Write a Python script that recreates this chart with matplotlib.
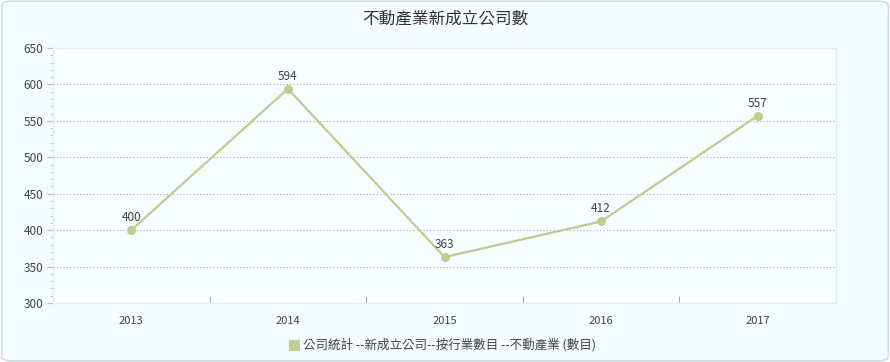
import matplotlib
matplotlib.use("Agg")
import matplotlib.pyplot as plt
from matplotlib.patches import FancyBboxPatch, Rectangle
from matplotlib.ticker import MultipleLocator

plt.rcParams['font.family'] = ['Noto Sans CJK TC', 'DejaVu Sans']

years = ['2013', '2014', '2015', '2016', '2017']
values = [400, 594, 363, 412, 557]
title = '不動產業新成立公司數'
series_name = '公司統計 --新成立公司--按行業數目 --不動產業 (數目)'

line_color = '#BACF8E'
text_color = '#444444'

fig = plt.figure(figsize=(8.9, 3.62), dpi=100)
fig.patch.set_facecolor('white')
bg = FancyBboxPatch((0.002, 0.003), 0.996, 0.994, boxstyle="round,pad=0,rounding_size=0.012",
                    transform=fig.transFigure, facecolor='#F4FCFF', edgecolor='#C9D8E0',
                    linewidth=1.0, zorder=-10)
fig.patches.append(bg)

ax = fig.add_axes([53/890, 1-303/362, (836-53)/890, (303-48)/362])
ax.set_zorder(1)
ax.set_facecolor('#F8FDFF')
x = list(range(len(years)))
ax.plot(x, values, color=line_color, linewidth=1.6, marker='o', markersize=5.5,
        markerfacecolor=line_color, markeredgecolor=line_color, zorder=3)
for xi, v in zip(x, values):
    ax.annotate(str(v), (xi, v), xytext=(0, 4.5), textcoords='offset points',
                ha='center', va='bottom', fontsize=8.5, color=text_color)

ax.set_xlim(-0.5, 4.5)
ax.set_ylim(300, 650)
ax.yaxis.set_major_locator(MultipleLocator(50))
ax.yaxis.set_minor_locator(MultipleLocator(10))
ax.set_xticks(x)
ax.set_xticklabels(years)
ax.set_xticks([i - 0.5 for i in range(6)], minor=True)
ax.tick_params(axis='x', which='major', length=0, pad=9, labelsize=8, labelcolor=text_color)
ax.tick_params(axis='x', which='minor', length=5, color='#999999', direction='in')
ax.tick_params(axis='y', which='major', length=4, color='#BBBBBB', labelsize=8.5,
               labelcolor=text_color, pad=3)
ax.tick_params(axis='y', which='minor', length=2, color='#BBBBBB')
for yv in range(350, 650, 50):
    ax.axhline(yv, color='#AAAAAA', linewidth=0.8, linestyle=(0, (1, 2)), zorder=1)
for s in ['top', 'right', 'left', 'bottom']:
    ax.spines[s].set_color('#E6EAEE')
    ax.spines[s].set_linewidth(1)

fig.text(0.5, 1-19/362, title, ha='center', va='center', fontsize=12, color='#333333')

fig.patches.append(Rectangle((289/890, 1-351/362), 11/890, 11/362, transform=fig.transFigure,
                             facecolor='#BDD18F', edgecolor='none'))
fig.text(303/890, 1-345/362, series_name, ha='left', va='center', fontsize=9, color=text_color)

fig.savefig('out.png', dpi=100, facecolor=fig.get_facecolor())
